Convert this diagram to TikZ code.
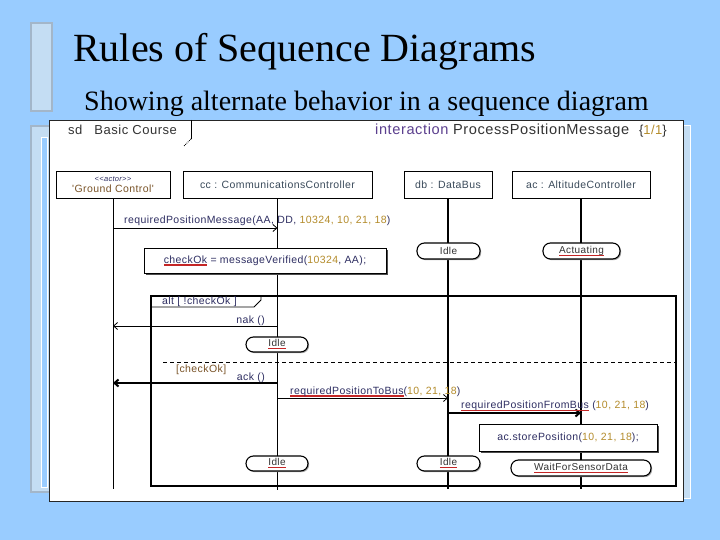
\documentclass[tikz,border=0pt]{standalone}
\usepackage{fontspec}
\setmainfont{Liberation Serif}
\newfontfamily\umlfont{Liberation Sans}[LetterSpace=4]
\usetikzlibrary{arrows.meta,positioning,shadows}
\definecolor{SlideBlue}{HTML}{99CCFF}
\definecolor{SlideBar}{HTML}{C4DDF3}
\definecolor{SlideEdge}{HTML}{A3B6C9}
\definecolor{UmlNavy}{HTML}{2E2E62}
\definecolor{UmlOlive}{HTML}{B48C2C}
\definecolor{UmlPurple}{HTML}{5B3F8E}
\definecolor{UmlBrown}{HTML}{7A5428}
\definecolor{UmlSlate}{HTML}{3A4A5A}
\definecolor{SpellRed}{HTML}{C42626}
\newsavebox{\spellbox}
\newcommand{\spell}[1]{\sbox{\spellbox}{#1}\rlap{\textcolor{SpellRed}{\rule[-2.6pt]{\wd\spellbox}{1.3pt}}}\usebox{\spellbox}}
\newcommand{\argnum}[1]{\textcolor{UmlOlive}{#1}}
\tikzset{
  hdr/.style={inner sep=0pt,font=\umlfont\fontsize{13}{15}\selectfont,text=black!80},
  lbl/.style={inner sep=0pt,font=\umlfont\fontsize{10.5}{12}\selectfont,text=UmlNavy},
  objbox/.style={draw,line width=0.9pt,fill=white,minimum height=27pt,inner sep=0pt,
    font=\umlfont\fontsize{10.5}{12}\selectfont,text=UmlSlate},
  actbox/.style={draw,line width=0.9pt,fill=white,inner sep=0pt,text=UmlNavy,
    font=\umlfont\fontsize{10.5}{12}\selectfont,
    drop shadow={shadow xshift=1.5pt,shadow yshift=-1.5pt,fill=black!70,opacity=1}},
  lifestate/.style={draw,line width=1.1pt,fill=white,rounded corners=7.5pt,minimum height=16pt,
    inner sep=0pt,text=black!80,font=\umlfont\fontsize{10}{12}\selectfont,
    drop shadow={shadow xshift=1.2pt,shadow yshift=-1.2pt,fill=black!35,opacity=1}},
  thinlife/.style={line width=0.8pt},
  thicklife/.style={line width=1.6pt},
  msg/.style={->,line width=0.8pt},
  boldmsg/.style={->,line width=2pt}
}

\begin{document}
\begin{tikzpicture}[x=1pt,y=-1pt,>={Straight Barb[length=4pt,width=7pt]}]
\useasboundingbox (0,0) rectangle (720,540);
\fill[SlideBlue] (0,0) rectangle (720,540);
\draw[SlideEdge,fill=SlideBar,line width=1.5pt] (31,23) rectangle (52,111);
\draw[SlideEdge,fill=SlideBar,line width=1.5pt] (31,126) rectangle (56,492);
\draw[white,fill=SlideBlue,line width=1pt] (41,138) rectangle (47,487);
\draw[white,fill=SlideBar,line width=0.8pt] (683,125) rectangle (690,498);
\draw[black!85,fill=white,line width=0.8pt] (49,120) rectangle (683,501);

\node[anchor=base west,inner sep=0pt,font=\rmfamily\fontsize{40}{44}\selectfont] (title) at (73,62) {Rules of Sequence Diagrams};
\node[anchor=base west,inner sep=0pt,font=\rmfamily\fontsize{28}{32}\selectfont] (subtitle) at (84,111) {Showing alternate behavior in a sequence diagram};

\node[hdr,anchor=base west] (sdname) at (68,135) {sd\hspace{12pt}Basic Course};
\coordinate (tabtop) at (191,120);
\coordinate (tabknee) at (191,139);
\coordinate (tabend) at (184,146);
\draw[line width=0.8pt] (tabtop) -- (tabknee);
\draw[line width=0.8pt,densely dotted] (tabknee) -- (tabend);
\node[hdr,anchor=base west,font=\umlfont\fontsize{14.6}{16}\selectfont] (iname) at (375,135) {\textcolor{UmlPurple}{interaction} ProcessPositionMessage};
\node[hdr,anchor=base east] (pagenum) at (667,135) {\{\argnum{1/1}\}};

\node[objbox,minimum width=114pt,align=center] (gc) at (113,184.5)
  {{\fontsize{7.5}{8}\selectfont\itshape\textcolor{UmlNavy}{<<actor>>}}\\[-1pt]\textcolor{UmlBrown}{'Ground Control'}};
\node[objbox,minimum width=189pt] (cc) at (277.5,184.5) {cc : CommunicationsController};
\node[objbox,minimum width=88pt] (db) at (448,184.5) {db : DataBus};
\node[objbox,minimum width=138pt] (ac) at (581,184.5) {ac : AltitudeController};

\coordinate (gcEnd) at (113,489);
\coordinate (ccEnd) at (277.5,490);
\coordinate (dbEnd) at (448,489);
\coordinate (acEnd) at (581,489);
\draw[thinlife] (gc) -- (gcEnd);
\draw[thinlife] (cc) -- (ccEnd);
\draw[thicklife] (db) -- (dbEnd);
\draw[thicklife] (ac) -- (acEnd);

\coordinate (gcAsk) at (113,228);
\coordinate (ccAsk) at (277.5,228);
\draw[msg] (gcAsk) -- (ccAsk);
\node[lbl,anchor=base west] (askmsg) at (124,224)
  {requiredPositionMessage(AA, DD, \argnum{10324, 10, 21, 18})};

\node[actbox,minimum width=242pt,minimum height=25pt] (verify) at (265,260.5)
  {\spell{checkOk} = messageVerified(\argnum{10324}, AA);};
\node[lifestate,minimum width=63pt] (dbIdleA) at (448.5,251) {Idle};
\node[lifestate,minimum width=77pt] (acAct) at (581.5,251) {\spell{Actuating}};

\draw[line width=1.2pt] (151,296) rectangle (676,486);
\draw[line width=2.6pt] (151,296) -- (151,486);
\coordinate (alttabA) at (151,307);
\coordinate (alttabB) at (254,307);
\coordinate (alttabC) at (261,300);
\coordinate (alttabD) at (261,296);
\draw[line width=0.8pt] (alttabA) -- (alttabB) -- (alttabC) -- (alttabD);
\node[lbl,anchor=base west] (altname) at (162,304) {alt [ !checkOk ]};

\coordinate (ccNak) at (277.5,326);
\coordinate (gcNak) at (113,326);
\draw[msg] (ccNak) -- (gcNak);
\node[lbl,anchor=base east] (nakmsg) at (265,323) {nak ()};
\node[lifestate,minimum width=62pt,minimum height=15pt] (ccIdleA) at (277,344.5) {\spell{Idle}};

\coordinate (sepA) at (163,362);
\coordinate (sepB) at (676,362);
\draw[line width=0.8pt,dash pattern=on 4pt off 3pt] (sepA) -- (sepB);
\node[lbl,anchor=base west,text=UmlBrown] (guard) at (176,372) {[checkOk]};

\coordinate (ccAck) at (277.5,383);
\coordinate (gcAck) at (113,383);
\draw[boldmsg] (ccAck) -- (gcAck);
\node[lbl,anchor=base east] (ackmsg) at (265,380) {ack ()};

\coordinate (ccBus) at (277.5,398);
\coordinate (dbBus) at (448,398);
\draw[msg] (ccBus) -- (dbBus);
\node[lbl,anchor=base west] (tobus) at (290,394) {\spell{requiredPositionToBus}(\argnum{10, 21, 18})};

\coordinate (dbFrom) at (448,413);
\coordinate (acFrom) at (581,413);
\draw[boldmsg] (dbFrom) -- (acFrom);
\node[lbl,anchor=base west] (frombus) at (461,408.5) {\spell{requiredPositionFromBus} (\argnum{10, 21, 18})};

\node[actbox,minimum width=178pt,minimum height=27pt,
  drop shadow={shadow xshift=1.2pt,shadow yshift=-1.2pt,fill=black!35,opacity=1}] (store) at (568,437.5)
  {ac.storePosition(\argnum{10, 21, 18});};

\node[lifestate,minimum width=62pt,minimum height=15pt] (ccIdleB) at (277,463.5) {\spell{Idle}};
\node[lifestate,minimum width=63pt,minimum height=15pt] (dbIdleB) at (448.5,463.5) {\spell{Idle}};
\node[lifestate,minimum width=140pt] (acWait) at (581,468) {\spell{WaitForSensorData}};
\end{tikzpicture}
\end{document}
